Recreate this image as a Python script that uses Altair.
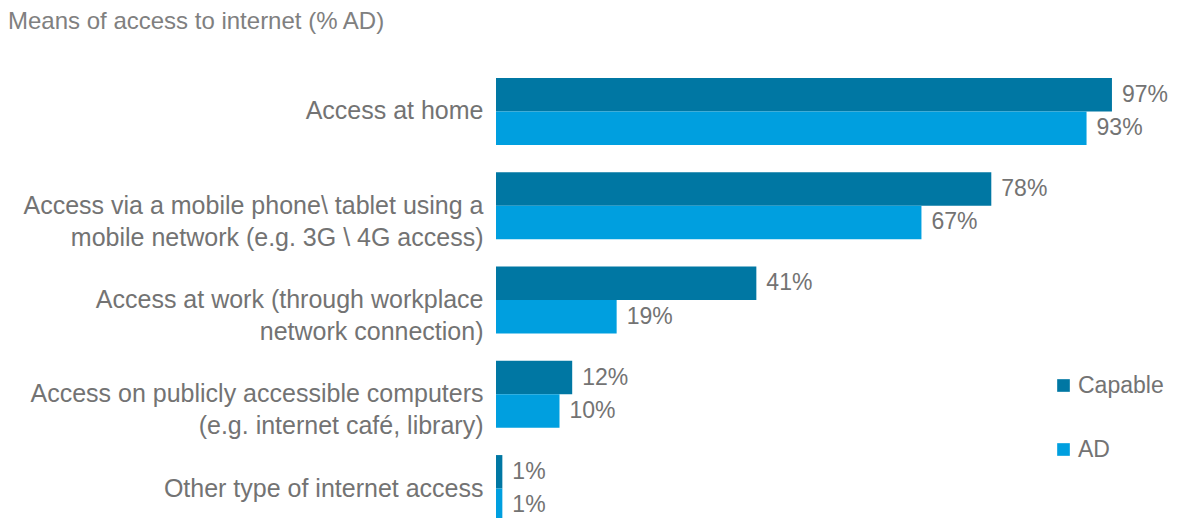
import altair as alt
import pandas as pd

categories = [
    "Access at home",
    "Access via a mobile phone\\ tablet using a|mobile  network (e.g. 3G \\ 4G access)",
    "Access at work (through  workplace|network connection)",
    "Access on publicly  accessible computers|(e.g. internet café, library)",
    "Other type of internet access",
]
series = ["Capable", "AD"]
capable = [97, 78, 41, 12, 1]
ad = [93, 67, 19, 10, 1]
colors = ["#0077A3", "#009FDF"]

rows = []
for c, v1, v2 in zip(categories, capable, ad):
    rows.append({"cat": c, "series": "Capable", "value": v1, "label": f"{v1}%"})
    rows.append({"cat": c, "series": "AD", "value": v2, "label": f"{v2}%"})
df = pd.DataFrame(rows)

FONT = "Liberation Sans"
GREY = "#737373"

y_enc = alt.Y(
    "cat:N",
    sort=categories,
    title=None,
    scale=alt.Scale(range=[0, 444], paddingInner=0.29, paddingOuter=0),
    axis=alt.Axis(
        domain=False,
        ticks=False,
        labelPadding=13,
        labelLimit=700,
        labelFont=FONT,
        labelFontSize=25,
        labelColor=GREY,
        labelLineHeight=32,
        labelExpr="split(datum.label, '|')",
    ),
)
yoff = alt.YOffset("series:N", sort=series, scale=alt.Scale(paddingInner=0, paddingOuter=0))
x_enc = alt.X("value:Q", scale=alt.Scale(domain=[0, 100]), axis=None)

bars = alt.Chart(df).mark_bar().encode(
    x=x_enc,
    y=y_enc,
    yOffset=yoff,
    color=alt.Color(
        "series:N",
        sort=series,
        scale=alt.Scale(domain=series, range=colors),
        legend=alt.Legend(
            title=None,
            orient="none",
            legendX=556,
            legendY=296,
            symbolType="square",
            symbolSize=160,
            symbolStrokeWidth=0,
            labelFont=FONT,
            labelFontSize=23,
            labelColor=GREY,
            labelOffset=3,
            rowPadding=40,
            padding=0,
        ),
    ),
)

texts = alt.Chart(df).mark_text(
    align="left", baseline="middle", dx=10, font=FONT, fontSize=23, color=GREY
).encode(
    x=x_enc,
    y=alt.Y("cat:N", sort=categories),
    yOffset=yoff,
    text="label:N",
)

chart = (
    alt.layer(bars, texts)
    .properties(
        width=635,
        height=440,
        padding={"left": 488, "top": 70, "right": 39, "bottom": 0},
        autosize=alt.AutoSizeParams(type="none"),
        title=alt.TitleParams(
            "Means of access to internet (% AD)",
            anchor="start",
            frame="group",
            dx=-488,
            offset=44,
            font=FONT,
            fontSize=24,
            fontWeight="normal",
            color="#808080",
        ),
    )
    .configure_view(stroke=None)
)

chart.save("out.html", embed_options={"renderer": "svg", "actions": False})
